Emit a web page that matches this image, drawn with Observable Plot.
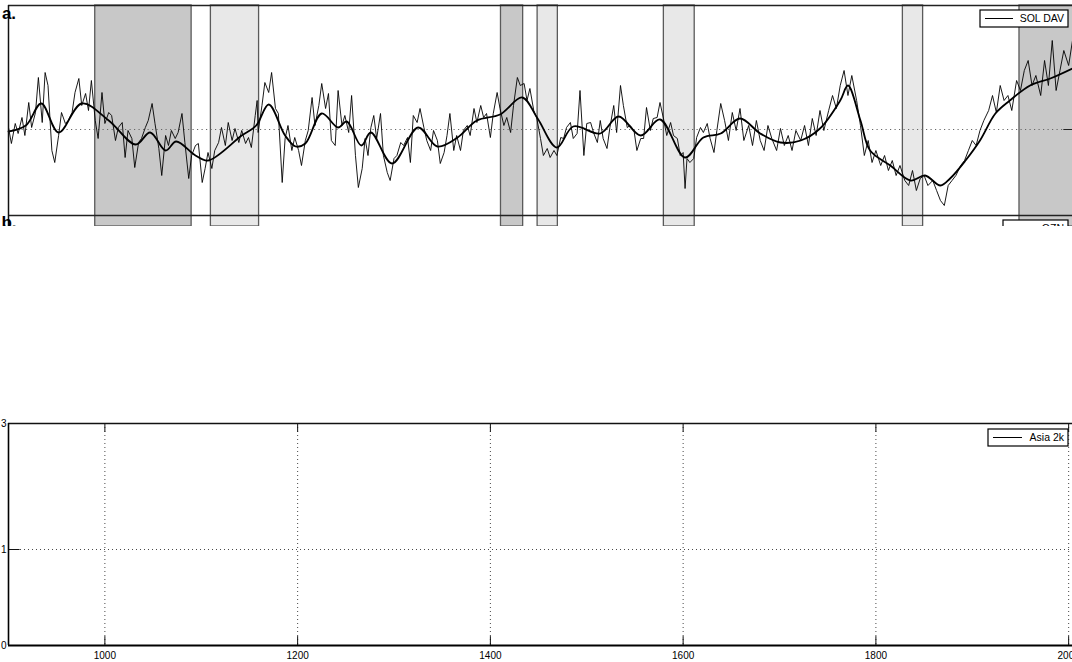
<!DOCTYPE html>
<html><head><meta charset="utf-8">
<script src="https://cdn.jsdelivr.net/npm/d3@7"></script>
<script src="https://cdn.jsdelivr.net/npm/@observablehq/plot@0.6"></script>
<style>
body{margin:0;background:#fff;}
#wrap{position:relative;width:1072px;height:662px;overflow:hidden;background:#fff;font-family:"Liberation Sans",Arial,Helvetica,sans-serif;}
#top{position:absolute;left:0;top:0;width:1072px;height:226px;overflow:hidden;}
#bottom{position:absolute;left:0;top:410px;width:1072px;height:252px;}
svg{overflow:visible;}
</style></head><body>
<div id="wrap"><div id="top"></div><div id="bottom"></div></div>
<script>
// ---------- data ----------
const solYears = [900,903,907,910,914,917,921,924,928,931,935,938,941,945,948,952,955,959,962,966,969,973,976,980,983,986,990,993,997,1000,1004,1007,1011,1014,1018,1021,1024,1028,1031,1035,1038,1042,1045,1049,1052,1056,1059,1063,1066,1069,1073,1076,1080,1083,1087,1090,1094,1097,1101,1104,1107,1111,1114,1118,1121,1125,1128,1132,1135,1139,1142,1146,1149,1152,1156,1158,1159,1163,1166,1170,1173,1177,1180,1184,1187,1190,1194,1197,1201,1204,1208,1211,1215,1218,1222,1225,1229,1232,1235,1239,1242,1246,1249,1253,1256,1260,1263,1267,1270,1273,
1276,1279,1282,1286,1289,1293,1296,1300,1303,1307,1310,1314,1317,1320,1324,1327,1331,1334,1338,1341,1345,1348,1352,1355,1358,1362,1365,1369,1372,1376,1379,1383,1386,1390,1393,1396,1400,1403,1407,1410,1414,1417,1421,1424,1428,1431,1435,1438,1441,1445,1448,1452,1455,1459,1462,1466,1469,1473,1476,1479,1483,1486,1490,1493,1497,1500,1504,1507,1511,1514,1517,1521,1524,1528,1531,1535,1538,1542,1545,1549,1552,1556,1559,1562,1566,1569,1573,1576,1580,1583,1587,1590,1594,1597,1600,1602,1604,1607,1611,1614,1618,1621,1625,1628,1632,1635,1639,
1643,1647,1651,1655,1659,1663,1668,1672,1676,1680,1684,1688,1692,1697,1701,1705,1709,1713,1717,1722,1726,1730,1734,1738,1742,1746,1751,1755,1759,1763,1767,1771,1775,1780,1784,1788,1792,1796,1800,1805,1809,1813,1817,1821,1825,1830,1834,1838,1842,1846,1850,1854,1859,1863,1867,1871,1875,1879,1883,1888,1892,1896,1900,1904,1908,1912,1917,1921,1925,1929,1933,1937,1941,1946,1950,1954,1958,1962,1966,1971,1975,1979,1983,1987,1991,1995,2000,2004];
const solValues = [0.2,-1.4,0.6,-0.4,1.2,-0.6,2.7,0.2,1.7,5.2,0.7,5.7,4.4,-2.1,-3.3,-0.6,1.7,0.6,0.9,1.7,3.7,5.1,2.4,3.6,1.9,4.9,0.9,-0.9,3.7,0.6,1.7,1.4,-1.1,0.2,0.7,-2.8,-0.1,-0.9,-3.8,-1.3,-0.9,0.2,0.9,2.6,0.6,-1.9,-4.6,-0.6,-1.6,-0.1,-0.9,-0.3,1.6,-1.3,-4.9,-2.6,-1.6,-1.4,-5.3,-3.9,-2.3,-3.9,-2.1,-1.3,0.2,-1.6,0.7,-1.1,0.1,-1.3,-0.1,-1.4,-0.8,-1.8,1.4,2.9,-0.3,2.4,4.7,3.7,5.7,2.1,1.6,-5.3,-0.9,0.4,-2.1,-0.8,-2.1,-3.6,-1.1,-0.1,3.2,0.4,2.4,4.6,2.1,3.6,-1.1,-1.6,3.9,0.4,1.4,-0.3,3.4,-2.6,-5.8,-3.9,-0.9,-2.6,
0.2,1.4,-0.9,1.6,-2.6,-4.3,-5.1,-2.9,-2.6,-1.3,-1.6,-0.8,-3.3,1.4,0.7,2.1,0.2,-1.1,-2.1,-0.1,-1.1,-3.4,-2.3,-0.6,1.6,-2.1,-0.6,-2.1,-0.1,0.4,-0.6,2.1,0.7,2.4,1.2,1.6,-0.8,1.6,3.7,2.1,0.4,1.2,-0.3,2.4,5.2,4.4,4.6,2.9,4.1,1.9,1.2,-0.9,-2.6,-1.9,-2.8,-2.1,-2.6,-0.8,-0.9,0.2,0.7,-0.9,-0.4,3.9,-2.6,0.6,0.7,-0.3,-1.3,0.9,-0.9,-1.9,0.2,2.4,-0.3,4.4,2.4,0.2,0.4,-0.1,-2.1,-0.9,-0.9,2.2,-0.1,1.1,1.2,2.7,0.9,-0.6,0.7,-0.6,-0.9,-2.6,-2.3,-5.9,-2.9,-3.3,-2.9,-0.8,0.2,-0.3,0.6,-0.9,-2.3,-0.1,2.6,
0.9,-1.1,1.7,-0.1,2.1,-1.1,0.4,-1.6,0.9,-1.1,-2.1,0.4,-0.9,-2.1,0.1,-1.6,-0.6,-2.1,-0.1,-1.1,0.4,-1.6,1.1,-0.6,1.9,-0.1,1.9,3.4,2.1,4.4,5.9,3.4,5.4,2.9,0.4,-2.6,-1.1,-3.3,-2.1,-3.6,-2.6,-4.1,-3.1,-4.6,-3.6,-5.1,-5.6,-4.1,-6.1,-4.9,-4.6,-5.6,-5.1,-6.1,-7.1,-7.6,-5.6,-5.1,-4.6,-3.6,-3.1,-2.1,-1.1,-1.6,-0.1,0.9,1.9,3.4,1.7,4.4,2.9,3.4,1.9,4.9,3.9,5.9,6.9,4.4,5.4,3.4,6.9,4.4,8.9,3.9,5.9,7.9,6.4,8.9];

const smoothYears = [900,918,934,952,976,1004,1032,1047,1063,1074,1094,1107,1142,1157,1170,1187,1198,1208,1225,1242,1251,1266,1276,1298,1325,1345,1366,1386,1410,1433,1449,1469,1486,1514,1533,1556,1576,1602,1621,1639,1659,1680,1701,1722,1742,1763,1771,1784,1794,1815,1836,1851,1867,1877,1893,1908,1924,1939,1960,1981,2004];
const smoothValues = [-0.2,0.4,2.6,-0.3,2.6,0.9,-1.5,-0.3,-2.1,-1.2,-2.6,-3.1,-0.6,0.4,2.5,-0.6,-1.7,-1.4,1.6,0.2,0.8,-1.6,-0.3,-3.4,0.2,-1.7,-0.8,0.9,1.5,3.2,1.1,-1.8,0.3,-0.4,1.3,-0.6,1.0,-2.8,-0.8,-0.4,1.1,-0.4,-1.3,-1.1,0.1,2.9,4.4,0.9,-2.1,-3.6,-5.1,-4.6,-5.6,-4.9,-3.1,-1.1,1.6,2.9,4.4,5.1,6.1];

const shadeStart = [990, 1110, 1411, 1449, 1580, 1828, 1949];
const shadeEnd   = [1090, 1160, 1434, 1470, 1612, 1849, 2012];
const shadeTone  = ["dark", "light", "dark", "light", "light", "light", "dark"];

const xTicks = [1000, 1200, 1400, 1600, 1800, 2000];
const xTickLabels = ["1000", "1200", "1400", "1600", "1800", "2000"];
const asiaYTicks = [0, 0.4324, 1];
const asiaYTickLabels = ["0", "1", "3"];

const panelLabels = ["a.", "b."];
const legendLabels = ["SOL DAV", "OZN", "Asia 2k"];

// ---------- build ----------
const X_DOMAIN = [900, 2004];
const FONT = '"Liberation Sans", Arial, Helvetica, sans-serif';
const toneFill = {dark: "#c8c8c8", light: "#e8e8e8"};

const sol = solYears.map((year, i) => ({year, value: solValues[i]}));
const smooth = smoothYears.map((year, i) => ({year, value: smoothValues[i]}));
const shades = shadeStart.map((s, i) => ({start: s, end: shadeEnd[i], fill: toneFill[shadeTone[i]]}));

const Y_TOP = [-9.7, 12.4];
const topChart = Plot.plot({
  width: 1072, height: 226,
  marginTop: 5, marginLeft: 8, marginRight: 0, marginBottom: 0,
  x: {domain: X_DOMAIN, axis: null},
  y: {domain: Y_TOP, axis: null},
  color: {type: "identity"},
  style: {fontFamily: FONT, background: "white"},
  marks: [
    Plot.rect(shades, {x1: "start", x2: "end", y1: Y_TOP[0], y2: Y_TOP[1], fill: "fill", stroke: "#5a5a5a", strokeWidth: 1.3}),
    Plot.ruleY([0], {x1: X_DOMAIN[0], x2: X_DOMAIN[1], stroke: "#666", strokeDasharray: "1.2,3.3", strokeWidth: 1}),
    Plot.ruleY([0], {x1: 1995, x2: 2004, stroke: "#222", strokeWidth: 1}),
    Plot.line(sol, {x: "year", y: "value", stroke: "#000", strokeWidth: 0.9}),
    Plot.line(smooth, {x: "year", y: "value", stroke: "#000", strokeWidth: 1.8, curve: "catmull-rom"}),
    Plot.ruleY([Y_TOP[1]], {stroke: "#222", strokeWidth: 1.6}),
    Plot.ruleY([-8.6], {stroke: "#222", strokeWidth: 1.6}),
    Plot.ruleX([X_DOMAIN[0]], {y1: Y_TOP[0], y2: Y_TOP[1], stroke: "#111", strokeWidth: 1.5})
  ]
});
document.getElementById("top").appendChild(topChart);

function addLegend(svg, x, y, w, h, label, lineLen) {
  const g = d3.select(svg).append("g").attr("font-family", FONT);
  g.append("rect").attr("x", x).attr("y", y).attr("width", w).attr("height", h)
    .attr("fill", "white").attr("stroke", "#000").attr("stroke-width", 1.2);
  g.append("line").attr("x1", x + 5).attr("x2", x + 5 + lineLen)
    .attr("y1", y + h / 2).attr("y2", y + h / 2).attr("stroke", "#000").attr("stroke-width", 1);
  g.append("text").attr("x", x + w - 4).attr("y", y + h / 2).attr("dy", "0.35em")
    .attr("text-anchor", "end").attr("font-size", 10.5).attr("fill", "#000").text(label);
}
function addPanelLabel(svg, x, y, label) {
  d3.select(svg).append("text").attr("x", x).attr("y", y)
    .attr("font-family", FONT).attr("font-weight", "bold").attr("font-size", 17)
    .attr("fill", "#000").text(label);
}
addLegend(topChart, 980, 10, 88, 17, legendLabels[0], 28);
addLegend(topChart, 1003, 220, 65, 17, legendLabels[1], 24);
addPanelLabel(topChart, 9, 19, panelLabels[0]);
addPanelLabel(topChart, 9, 228, panelLabels[1]);

const xLabelMap = new Map(xTicks.map((t, i) => [t, xTickLabels[i]]));
const yLabelMap = new Map(asiaYTicks.map((t, i) => [t, asiaYTickLabels[i]]));

const bottomChart = Plot.plot({
  width: 1072, height: 252,
  marginTop: 13, marginBottom: 17, marginLeft: 8, marginRight: 0,
  x: {domain: X_DOMAIN},
  y: {domain: [0, 1]},
  style: {fontFamily: FONT, background: "white"},
  marks: [
    Plot.ruleX(xTicks, {stroke: "#333", strokeDasharray: "1,3", strokeWidth: 0.9}),
    Plot.ruleY([asiaYTicks[1]], {stroke: "#333", strokeDasharray: "1,3", strokeWidth: 0.9}),
    Plot.ruleX(xTicks, {y1: 0, y2: 0.04, stroke: "#111", strokeWidth: 1}),
    Plot.ruleX(xTicks, {y1: 0.96, y2: 1, stroke: "#111", strokeWidth: 1}),
    Plot.ruleY(asiaYTicks, {x1: X_DOMAIN[0], x2: 912, stroke: "#111", strokeWidth: 1}),
    Plot.ruleY([1], {stroke: "#111", strokeWidth: 1.3}),
    Plot.ruleY([0], {stroke: "#000", strokeWidth: 2}),
    Plot.ruleX([X_DOMAIN[0]], {stroke: "#000", strokeWidth: 1.6}),
    Plot.axisX({ticks: xTicks, tickFormat: d => xLabelMap.get(d), tickSize: 0, tickPadding: 6, fontSize: 10, label: null}),
    Plot.axisY({ticks: asiaYTicks, tickFormat: d => yLabelMap.get(d), tickSize: 0, tickPadding: 2, fontSize: 10, label: null})
  ]
});
document.getElementById("bottom").appendChild(bottomChart);
addLegend(bottomChart, 988, 19, 80, 17, legendLabels[2], 29);
</script>
</body></html>
